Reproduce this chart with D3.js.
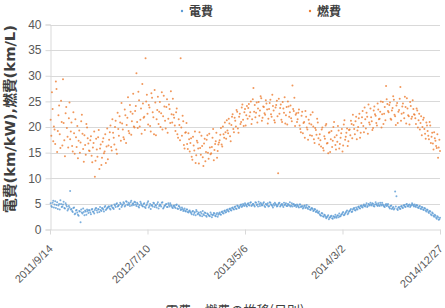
<!DOCTYPE html>
<html lang="ja">
<head>
<meta charset="UTF-8">
<title>電費・燃費</title>
<script src="https://d3js.org/d3.v7.min.js"></script>
<style>
  body { margin: 0; background: #fff; }
  svg { display: block; }
  .tick text { fill: #595959; font-family: "Liberation Sans", Arial, sans-serif; font-size: 12px; }
  .xaxis .tick text { font-size: 11px; }
  .legend text { fill: #404040; font-family: "Noto Sans CJK JP", sans-serif; font-size: 12px; font-weight: bold; }
</style>
</head>
<body>
<svg id="chart" width="445" height="308"></svg>
<script>
// day offsets from 2011/9/14 (first set of readings)
const days = [2,6,10,14,18,22,26,30,34,38,42,46,50,54,58,62,66,70,74,78,82,86,90,94,98,102,106,110,114,118,
  122,126,130,134,138,142,146,150,154,158,162,166,170,174,178,182,186,190,194,198,202,206,210,214,218,222,226,230,234,238,
  242,246,250,254,258,262,266,270,274,278,282,286,290,294,298,302,306,310,314,318,322,326,330,334,338,342,346,350,354,358,
  362,366,370,374,378,382,386,390,394,398,402,406,410,414,418,422,426,430,434,438,442,446,450,454,458,462,466,470,474,478,
  482,486,490,494,498,502,506,510,514,518,522,526,530,534,538,542,546,550,554,558,562,566,570,574,578,582,586,590,594,598,
  602,606,610,614,618,622,626,630,634,638,642,646,650,654,658,662,666,670,674,678,682,686,690,694,698,702,706,710,714,718,
  722,726,730,734,738,742,746,750,754,758,762,766,770,774,778,782,786,790,794,798,802,806,810,814,818,822,826,830,834,838,
  842,846,850,854,858,862,866,870,874,878,882,886,890,894,898,902,906,910,914,918,922,926,930,934,938,942,946,950,954,958,
  962,966,970,974,978,982,986,990,994,998,1002,1006,1010,1014,1018,1022,1026,1030,1034,1038,1042,1046,1050,1054,1058,1062,1066,1070,1074,1078,
  1082,1086,1090,1094,1098,1102,1106,1110,1114,1118,1122,1126,1130,1134,1138,1142,1146,1150,1154,1158,1162,1166,1170,1174,1178,1182,1186,1190,1194,1198];

// day offsets (second set of readings)
const days2 = [4,8,12,16,20,24,28,32,36,40,44,48,52,56,60,64,68,72,76,80,84,88,92,96,100,104,108,112,116,120,
  124,128,132,136,140,144,148,152,156,160,164,168,172,176,180,184,188,192,196,200,204,208,212,216,220,224,228,232,236,240,
  244,248,252,256,260,264,268,272,276,280,284,288,292,296,300,304,308,312,316,320,324,328,332,336,340,344,348,352,356,360,
  364,368,372,376,380,384,388,392,396,400,404,408,412,416,420,424,428,432,436,440,444,448,452,456,460,464,468,472,476,480,
  484,488,492,496,500,504,508,512,516,520,524,528,532,536,540,544,548,552,556,560,564,568,572,576,580,584,588,592,596,600,
  604,608,612,616,620,624,628,632,636,640,644,648,652,656,660,664,668,672,676,680,684,688,692,696,700,704,708,712,716,720,
  724,728,732,736,740,744,748,752,756,760,764,768,772,776,780,784,788,792,796,800,804,808,812,816,820,824,828,832,836,840,
  844,848,852,856,860,864,868,872,876,880,884,888,892,896,900,904,908,912,916,920,924,928,932,936,940,944,948,952,956,960,
  964,968,972,976,980,984,988,992,996,1000,1004,1008,1012,1016,1020,1024,1028,1032,1036,1040,1044,1048,1052,1056,1060,1064,1068,1072,1076,1080,
  1084,1088,1092,1096,1100,1104,1108,1112,1116,1120,1124,1128,1132,1136,1140,1144,1148,1152,1156,1160,1164,1168,1172,1176,1180,1184,1188,1192,1196,1200];

// 電費 (km/kW)
const denpi = [5.1,4.4,5.6,4.9,4.2,5.3,4.7,3.9,5.0,4.5,5.4,4.1,4.8,3.7,4.6,
  7.5,4.0,3.4,4.3,3.1,3.8,2.9,3.6,1.4,3.3,4.1,2.8,3.5,3.9,3.2,
  3.7,3.0,4.0,3.4,3.8,4.2,3.3,3.9,4.4,3.6,4.1,3.5,4.6,4.0,4.3,
  4.5,3.9,4.7,4.2,4.9,4.4,5.1,4.6,4.0,5.0,4.7,5.3,4.5,5.5,4.9,5.2,4.6,5.6,5.0,4.8,
  5.3,4.6,5.0,4.3,5.4,4.8,4.5,5.1,4.2,4.9,5.5,4.6,4.0,4.8,5.2,4.4,4.7,5.0,4.1,4.9,4.5,5.3,4.3,4.7,5.0,4.4,4.8,5.1,4.6,4.2,
  4.7,4.2,4.9,4.0,4.5,3.8,4.3,3.6,4.1,3.5,3.9,3.3,
  3.7,3.2,3.5,2.9,3.4,3.8,3.0,3.3,2.7,3.1,3.6,2.8,3.2,2.5,3.0,2.7,3.3,2.4,2.9,3.1,2.6,3.2,2.9,
  3.3,2.9,3.5,3.1,3.7,3.4,3.9,3.5,4.1,3.7,4.3,3.9,4.5,4.0,4.6,4.2,4.8,4.4,5.0,4.6,4.9,4.5,
  5.1,4.7,5.3,4.8,5.0,4.5,5.2,4.9,5.4,4.6,5.0,4.8,5.3,4.4,4.9,5.1,4.6,5.2,4.8,4.3,4.7,5.0,4.5,4.9,5.2,4.7,5.0,4.4,4.8,5.1,4.6,4.9,5.3,4.7,4.5,5.0,4.8,4.4,
  4.7,4.3,4.9,4.5,4.1,4.6,4.2,4.8,4.0,4.4,3.8,4.2,3.6,4.0,3.4,3.7,3.2,
  3.0,2.7,3.1,2.5,2.8,2.2,2.6,2.0,2.4,2.7,2.1,2.5,2.9,2.3,2.8,3.1,2.6,3.0,3.4,2.9,3.3,3.7,3.2,
  3.6,4.0,3.5,4.1,3.8,4.3,3.9,4.5,4.1,4.7,4.3,4.9,4.5,5.1,4.6,4.9,5.2,4.7,5.0,4.5,5.3,4.8,5.1,4.6,4.9,5.2,4.7,4.4,5.0,4.8,
  4.5,4.1,4.7,4.2,3.9,7.4,6.5,3.8,4.4,4.0,4.6,4.2,4.8,4.4,5.0,4.5,4.9,4.6,5.1,4.7,
  4.9,4.4,4.7,4.2,4.6,4.0,4.3,3.8,4.1,3.5,3.8,3.2,3.5,2.8,3.1,2.5,2.7,2.1,2.4,2.0];

const denpi2 = [4.6,5.2,4.3,5.5,4.8,4.0,5.0,5.7,4.4,4.9,4.2,5.1,4.5,4.0,4.3,
  3.9,3.6,4.2,3.0,3.7,3.3,2.7,3.5,3.9,3.1,3.4,3.7,2.9,3.6,3.8,
  3.3,3.9,3.5,3.1,4.1,3.7,4.0,3.4,3.8,4.2,3.9,4.4,3.8,4.2,4.5,
  4.1,4.6,4.3,4.0,4.7,5.0,4.5,4.8,5.2,4.4,4.9,5.1,4.7,5.4,4.8,5.0,5.3,4.7,5.1,5.4,
  4.9,5.2,4.5,4.8,5.1,4.6,5.0,4.4,4.7,5.2,4.3,5.0,4.7,4.5,5.1,4.8,4.3,5.3,4.6,4.8,5.2,4.1,4.6,4.9,4.4,5.1,4.5,4.8,4.3,4.6,
  4.4,4.8,4.1,4.6,4.2,3.9,4.0,3.8,3.6,3.9,3.4,3.6,
  3.4,3.0,3.6,3.2,2.8,3.5,3.1,2.9,3.4,2.6,3.0,3.3,2.7,3.1,2.8,2.6,3.0,2.8,3.2,2.7,3.0,2.5,3.1,
  3.0,3.4,3.2,3.6,3.3,3.8,3.6,4.0,3.8,4.2,4.0,4.4,4.1,4.7,4.3,4.5,4.9,4.6,4.8,5.1,4.7,5.0,
  4.8,5.2,4.6,5.0,4.7,5.3,4.8,4.5,5.0,5.2,4.7,5.1,4.6,5.0,4.8,4.5,5.3,4.9,4.6,5.0,5.2,4.8,4.6,5.1,4.5,4.9,4.7,5.2,4.9,4.6,5.0,4.7,4.5,5.1,4.9,4.6,4.7,4.9,
  4.5,4.9,4.4,4.6,4.3,4.7,4.4,4.2,4.5,3.9,4.1,4.0,3.7,3.9,3.5,3.3,3.5,
  2.8,3.2,2.6,2.9,2.5,2.4,2.8,2.3,2.6,2.2,2.6,2.3,2.5,2.7,2.4,2.6,2.9,3.2,2.8,3.1,3.5,3.0,3.5,
  3.8,3.4,3.9,4.2,3.7,4.0,4.4,4.2,4.6,4.4,4.7,4.6,4.8,4.4,5.0,4.7,4.9,5.1,4.6,4.9,5.0,4.6,4.8,5.2,4.7,4.9,4.5,4.8,4.6,5.0,
  4.3,4.6,4.0,4.4,4.1,4.5,4.0,4.3,4.1,4.5,4.3,4.7,4.5,4.9,4.6,4.8,4.4,4.8,4.9,4.5,
  4.6,4.8,4.3,4.5,4.1,4.4,3.9,4.2,3.7,3.9,3.4,3.6,3.0,3.3,2.7,2.9,2.3,2.6,1.9,2.3];

// 燃費 (km/L)
const nenpi = [21.4,26.8,17.2,19.5,28.9,15.1,22.3,18.6,25.1,16.4,20.8,14.3,23.9,18.1,21.7,
  17.6,20.9,15.2,18.8,21.5,16.1,13.9,19.3,17.0,22.4,15.7,18.4,14.6,19.9,16.8,
  15.3,18.2,13.1,16.9,10.3,17.7,14.2,19.4,15.8,12.6,17.1,14.9,18.6,16.2,13.7,
  17.5,20.3,15.4,18.9,16.6,21.2,14.8,19.6,22.1,17.3,20.7,18.0,23.4,16.9,21.8,19.2,24.3,18.5,22.6,20.1,
  23.1,30.5,19.8,25.2,21.4,18.7,24.6,22.0,33.4,26.3,20.5,23.8,19.1,25.7,21.9,27.2,18.4,23.3,20.6,24.9,22.7,19.5,26.1,21.2,23.9,18.9,24.4,20.8,22.5,25.5,
  21.8,19.2,23.6,17.9,20.4,33.4,18.3,21.1,15.8,19.0,16.7,18.8,
  15.2,17.8,13.6,16.4,19.1,14.5,17.0,12.9,15.9,18.3,14.1,16.8,13.3,17.5,15.0,18.7,14.7,16.1,19.6,15.5,17.2,14.0,16.6,
  17.4,19.8,16.2,18.6,20.9,17.7,19.3,21.6,18.2,20.4,22.5,19.0,21.2,23.3,19.7,22.0,20.6,23.8,21.4,22.9,20.3,24.1,
  23.7,22.1,25.0,21.5,27.6,24.3,22.8,20.9,24.9,23.2,25.6,21.8,23.9,22.4,24.6,20.7,23.5,25.3,22.0,24.1,21.3,23.8,25.1,11.0,22.6,24.4,21.0,23.6,25.8,22.3,20.5,24.0,22.9,21.7,28.1,23.1,20.2,22.7,
  21.5,23.4,19.6,22.2,18.8,21.0,23.1,19.9,17.5,20.7,22.4,18.3,20.1,16.9,19.4,21.6,17.8,
  18.6,16.2,19.9,15.4,17.7,20.6,16.9,18.9,15.1,19.2,17.3,21.0,16.5,18.4,20.2,15.8,17.9,19.6,16.4,21.3,18.1,19.7,17.2,
  19.5,21.2,17.8,20.4,18.6,22.0,19.3,21.7,17.9,20.8,23.1,19.0,21.5,22.8,18.7,20.9,23.6,21.1,19.8,24.0,22.2,20.3,23.4,21.6,25.0,22.5,20.6,23.9,28.0,24.5,
  22.9,24.8,21.4,23.7,25.3,22.1,24.2,20.8,23.3,27.8,22.6,24.6,21.7,23.9,25.6,22.3,20.5,24.1,22.0,23.5,
  22.4,20.6,23.2,21.3,19.5,22.1,20.0,21.8,18.7,20.9,19.2,17.6,20.3,18.1,16.8,19.0,17.3,15.9,14.0,17.5];

const nenpi2 = [18.3,23.5,20.1,16.7,27.4,19.2,24.2,15.9,21.0,29.3,17.4,22.7,19.8,16.0,24.8,
  19.1,16.3,22.9,14.8,18.0,20.2,17.3,15.0,21.1,18.7,13.2,16.5,20.6,17.8,15.4,
  17.4,14.4,16.0,19.1,13.4,15.6,18.0,11.8,16.6,14.0,17.8,15.2,13.0,19.7,16.4,
  19.0,16.1,21.5,17.9,20.0,15.6,22.8,18.3,20.9,24.7,19.5,17.6,22.3,20.4,25.8,18.8,23.0,21.1,26.5,19.9,
  24.1,21.0,26.9,20.1,23.6,28.4,21.8,19.4,25.0,22.6,24.3,20.2,26.6,22.9,18.6,24.8,21.5,25.9,23.0,20.0,26.8,22.1,24.0,19.7,25.4,21.6,23.5,27.0,20.9,22.4,
  20.3,22.9,18.6,21.5,17.4,19.9,22.2,16.5,18.9,20.8,15.7,17.6,
  16.9,14.2,18.1,15.4,13.0,17.3,15.8,19.0,14.6,16.3,12.4,17.7,15.1,18.4,13.8,16.0,14.9,17.9,13.5,16.7,18.9,15.3,17.0,
  18.5,16.6,20.1,17.9,19.0,21.3,18.8,20.7,17.2,22.0,19.6,21.8,20.1,23.0,18.9,22.6,21.0,24.4,20.2,23.5,22.3,21.6,
  24.5,22.9,20.6,25.4,23.0,21.9,24.8,23.6,22.2,26.0,21.2,24.0,22.7,25.2,23.4,21.6,24.7,22.5,26.3,23.2,20.9,24.3,22.1,25.5,23.7,21.4,24.9,22.8,20.7,23.9,25.0,22.0,24.2,21.1,23.5,25.7,22.4,21.0,
  22.8,20.3,19.0,23.0,20.8,17.9,22.0,19.5,21.4,18.4,20.5,22.9,17.6,19.8,18.5,20.9,16.6,
  17.4,19.5,15.9,18.2,20.3,16.8,14.9,19.0,17.6,16.1,20.0,18.0,15.6,17.1,19.3,16.7,18.8,15.2,20.5,17.5,18.9,16.3,19.4,
  18.4,20.6,22.4,19.6,21.1,17.6,20.0,22.6,18.9,21.9,20.2,23.8,19.7,22.0,24.4,20.5,21.9,19.4,23.2,22.5,20.8,24.6,21.5,23.0,19.9,24.9,22.6,21.3,25.4,23.1,
  24.3,21.6,23.2,26.0,22.4,20.4,24.7,23.0,25.5,21.2,24.0,22.8,25.9,20.7,23.6,22.1,24.9,21.6,25.2,22.5,
  21.7,23.6,19.9,22.6,20.8,18.4,21.4,19.6,17.7,20.3,18.3,21.0,16.9,18.9,15.6,17.8,16.3,18.6,16.0,15.3];

const tickDays = [0, 300, 600, 900, 1200];
const tickLabels = ["2011/9/14", "2012/7/10", "2013/5/6", "2014/3/2", "2014/12/27"];
const yTicks = [0, 5, 10, 15, 20, 25, 30, 35, 40];

const series = [
  { name: "電費", sets: [[days, denpi], [days2, denpi2]], color: "#5b9bd5" },
  { name: "燃費", sets: [[days, nenpi], [days2, nenpi2]], color: "#ed7d31" }
];

const svg = d3.select("#chart");
const x = d3.scaleLinear().domain([0, 1200]).range([50, 440]);
const y = d3.scaleLinear().domain([0, 40]).range([229.5, 24.5]);

// grid
svg.append("g").selectAll("line").data(yTicks.slice(1)).join("line")
  .attr("x1", 50).attr("x2", 440)
  .attr("y1", d => Math.round(y(d)) + 0.5).attr("y2", d => Math.round(y(d)) + 0.5)
  .attr("stroke", "#d9d9d9").attr("stroke-width", 1);

// y axis
const yAxis = svg.append("g").attr("transform", "translate(50.5,0)")
  .call(d3.axisLeft(y).tickValues(yTicks).tickSize(5).tickPadding(4));
yAxis.select(".domain").attr("stroke", "#d9d9d9");
yAxis.selectAll(".tick line").attr("stroke", "#d9d9d9");

// x axis
const xAxis = svg.append("g").attr("class", "xaxis").attr("transform", "translate(0,229.5)")
  .call(d3.axisBottom(x).tickValues(tickDays).tickFormat((d, i) => tickLabels[i]).tickSize(5).tickSizeOuter(0));
xAxis.select(".domain").attr("stroke", "#d9d9d9");
xAxis.selectAll(".tick line").attr("stroke", "#d9d9d9");
xAxis.selectAll(".tick text")
  .attr("text-anchor", "end")
  .attr("dy", null).attr("y", 0)
  .attr("transform", "translate(3,20) rotate(-45)");

// points
series.forEach(s => {
  const g = svg.append("g");
  s.sets.forEach(([ds, vs]) => {
    const pts = ds.map((d, i) => [d, vs[i]]).filter(p => p[1] != null);
    g.append("g").selectAll("circle").data(pts).join("circle")
      .attr("cx", p => x(p[0]))
      .attr("cy", p => y(p[1]))
      .attr("r", 1)
      .attr("fill", s.color)
      .attr("opacity", 0.8);
  });
});

// y title
svg.append("text")
  .attr("transform", "translate(15,119) rotate(-90)")
  .attr("text-anchor", "middle")
  .attr("fill", "#404040")
  .attr("textLength", 188)
  .attr("lengthAdjust", "spacingAndGlyphs")
  .style("font-family", "'DejaVu Sans', 'Noto Sans CJK JP', sans-serif")
  .style("font-size", "13.5px").style("font-weight", "bold")
  .text("電費(km/kW),燃費(km/L)");

// x title (clipped at bottom)
svg.append("text")
  .attr("x", 235).attr("y", 315)
  .attr("text-anchor", "middle")
  .attr("fill", "#404040")
  .style("font-family", "'Noto Sans CJK JP', sans-serif")
  .style("font-size", "13px")
  .text("電費・燃費の推移(日別)");

// legend
const legendX = [182, 310];
const legend = svg.append("g").attr("class", "legend");
series.forEach((s, i) => {
  legend.append("circle").attr("cx", legendX[i]).attr("cy", 11).attr("r", 1.2).attr("fill", s.color);
  legend.append("text").attr("x", legendX[i] + 7).attr("y", 15.5).text(s.name);
});
</script>
</body>
</html>
